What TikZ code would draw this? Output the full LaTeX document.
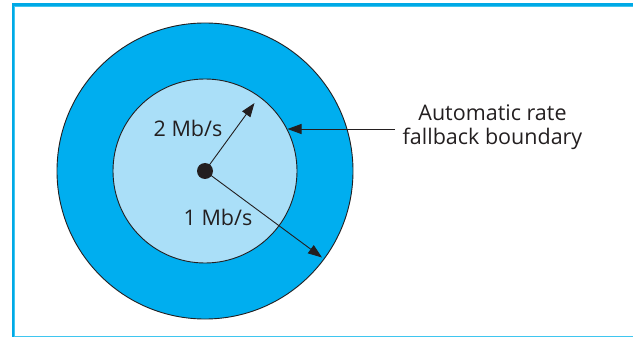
\documentclass[tikz,border=0pt]{standalone}
\usepackage{fontspec}
\setmainfont{Open Sans}
\usetikzlibrary{arrows.meta}
\definecolor{framecyan}{HTML}{00A9E6}
\definecolor{framelight}{HTML}{3FC6F0}
\definecolor{outerblue}{HTML}{00AEEF}
\definecolor{innerblue}{HTML}{AADFF8}
\definecolor{inkgray}{HTML}{231F20}
\tikzset{
  ring/.style={draw=inkgray, line width=0.9pt},
  rate/.style={draw=inkgray, line width=0.9pt, -{Triangle[length=14pt,width=10pt]}},
  lbl/.style={font=\fontsize{21.5}{24}\selectfont, text=inkgray, inner sep=0pt},
}
\begin{document}
\begin{tikzpicture}[x=1pt,y=-1pt]
\useasboundingbox (0,0) rectangle (633,337);
% frame, open on the right
\begin{scope}
\clip (0,0) rectangle (633,337);
\draw[framecyan, line width=2.6pt] (13.2,4.4) rectangle (660,337.6);
\draw[framelight, line width=0.9pt] (14.9,6.1) rectangle (660,336.2);
\end{scope}
% coverage areas
\node[ring, circle, fill=outerblue, minimum size=296pt, inner sep=0pt] (outer) at (205,171) {};
\node[ring, circle, fill=innerblue, minimum size=184pt, inner sep=0pt] (inner) at (205,171) {};
\node[circle, fill=inkgray, minimum size=16pt, inner sep=0pt] (ap) at (205,171) {};
% rate arrows
\coordinate (tip2) at (254.5,103);
\coordinate (tip1) at (322,257.5);
\draw[rate] (ap.center) -- (tip2);
\draw[rate] (ap.center) -- (tip1);
\node[lbl] (r2) at (188,128) {2 Mb/s};
\node[lbl] (r1) at (218,217) {1 Mb/s};
% boundary label
\node[lbl, align=center] (fb) at (492.5,127) {Automatic rate\\fallback boundary};
\coordinate (bnd) at (287.5,129);
\draw[rate] (395,129) -- (bnd);
\end{tikzpicture}
\end{document}
